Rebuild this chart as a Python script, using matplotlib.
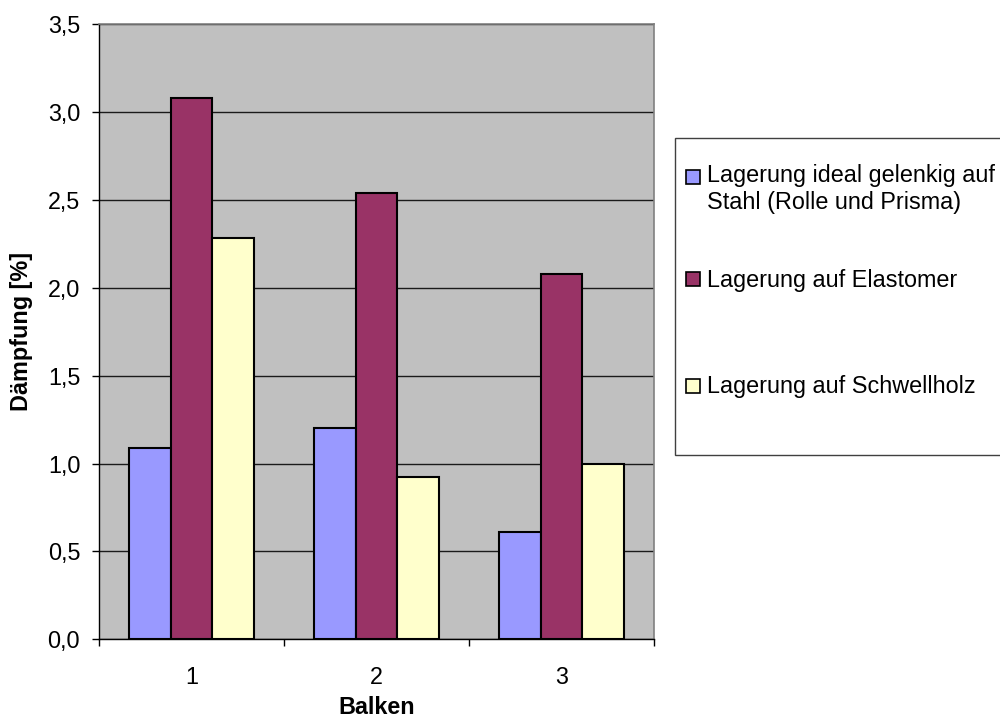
import numpy as np
import matplotlib
matplotlib.use("Agg")
import matplotlib.pyplot as plt
from matplotlib.patches import Rectangle

plt.rcParams["font.family"] = ["Liberation Sans", "DejaVu Sans"]

# --- Daten ---
balken = ["1", "2", "3"]
serien = [
    "Lagerung ideal gelenkig auf\nStahl (Rolle und Prisma)",
    "Lagerung auf Elastomer",
    "Lagerung auf Schwellholz",
]
ideal_stahl = [1.09, 1.20, 0.61]
elastomer = [3.08, 2.54, 2.08]
schwellholz = [2.28, 0.925, 1.00]
farben = ["#9999FF", "#993366", "#FFFFCC"]

W, H = 1000, 727
fig = plt.figure(figsize=(W / 100, H / 100), dpi=100)
ax = fig.add_axes([99 / W, 1 - 639.3 / H, 555 / W, 615.3 / H])
ax.set_facecolor("#C0C0C0")

x = np.arange(len(balken))
breite = 0.224
werte = [ideal_stahl, elastomer, schwellholz]
for i, (w, c) in enumerate(zip(werte, farben)):
    ax.bar(x + (i - 1) * breite, w, width=breite, color=c,
           edgecolor="black", linewidth=1.5, zorder=3)

ax.set_xlim(-0.5, len(balken) - 0.5)
ax.set_ylim(0, 3.5)
ax.set_yticks(np.arange(0, 3.51, 0.5))
ax.set_yticklabels([f"{v:.1f}".replace(".", ",") for v in np.arange(0, 3.51, 0.5)])
ax.set_xticks(x)
ax.set_xticklabels(balken)
ax.set_xticks(np.arange(-0.5, len(balken)), minor=True)
ax.tick_params(axis="x", which="major", length=0, pad=19, labelsize=16.8)
ax.tick_params(axis="x", which="minor", length=5, width=1, direction="out")
ax.tick_params(axis="y", length=5, width=1, direction="out", pad=8.5, labelsize=16.8)

ax.yaxis.grid(True, color="#1a1a1a", linewidth=1.0, zorder=1)
ax.set_axisbelow(True)
for s in ["top", "right"]:
    ax.spines[s].set_color("#808080")
    ax.spines[s].set_linewidth(1.2)
for s in ["left", "bottom"]:
    ax.spines[s].set_color("black")
    ax.spines[s].set_linewidth(1.0)

fig.text(376.5 / W, 1 - 707 / H, "Balken", fontsize=16.8, fontweight="bold",
         ha="center", va="center")
fig.text(22 / W, 1 - 331.5 / H, "Dämpfung [%]", fontsize=16.8, fontweight="bold",
         rotation=90, ha="center", va="center")

# --- Legende (Excel-Stil, rechts angeschnitten) ---
def px(xp, yp):
    return xp / W, 1 - yp / H

fig.patches.append(Rectangle(px(674.7, 455), (1010 - 674.7) / W, (455 - 138.3) / H,
                             transform=fig.transFigure, facecolor="white",
                             edgecolor="#404040", linewidth=1.0, clip_on=False))
quad_y = [177.3, 279, 386]
zeilen = [[("Lagerung ideal gelenkig auf", 181.7), ("Stahl (Rolle und Prisma)", 208.5)],
          [("Lagerung auf Elastomer", 286.7)],
          [("Lagerung auf Schwellholz", 393.3)]]
for qy, c, z in zip(quad_y, farben, zeilen):
    fig.patches.append(Rectangle(px(686, qy + 7), 14 / W, 14 / H,
                                 transform=fig.transFigure, facecolor=c,
                                 edgecolor="black", linewidth=1.2))
    for txt, by in z:
        fig.text(*px(706.7, by), txt, fontsize=16.8, ha="left", va="baseline")

fig.savefig("out.png", dpi=100)
